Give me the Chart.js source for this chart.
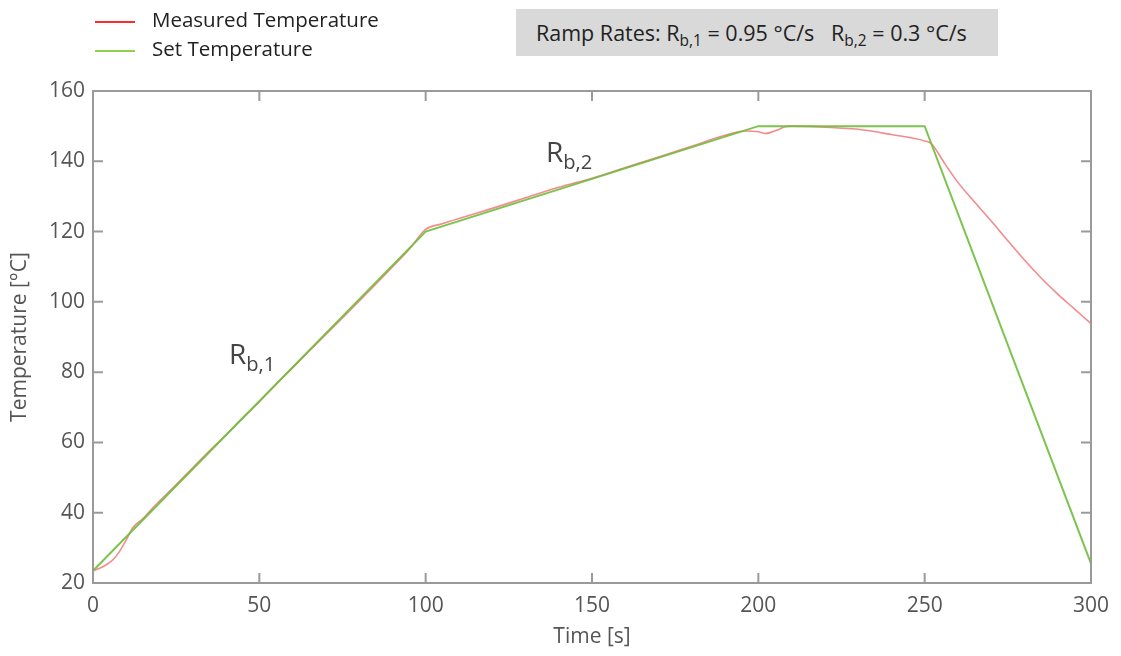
<!DOCTYPE html>
<html>
<head>
<meta charset="utf-8">
<script src="https://cdn.jsdelivr.net/npm/chart.js@4"></script>
<style>
    body { margin: 0; background: #fff; font-family: 'Open Sans', sans-serif; }
    #wrap { position: relative; width: 1121px; height: 656px; }
    .legend { position: absolute; left: 95px; font-size: 20.5px; color: #222; }
    .legend span.line { display: inline-block; width: 40px; height: 2px; vertical-align: middle; margin-right: 17px; }
    .rates { position: absolute; left: 516px; top: 9px; width: 482px; height: 47px; background: #d9d9d9;
             font-size: 21.5px; color: #222; line-height: 47px; text-indent: 20px; white-space: nowrap; }
    .rlabel { position: absolute; font-size: 28px; color: #444; }
    sub { font-size: 0.72em; vertical-align: -0.35em; line-height: 0; }
</style>
</head>
<body>
<div id="wrap">
    <canvas id="tempChart"></canvas>
    <div class="legend" style="top:5px"><span class="line" style="background:#ff2a2a"></span>Measured Temperature</div>
    <div class="legend" style="top:34px"><span class="line" style="background:#8fd14f"></span>Set Temperature</div>
    <div class="rates">Ramp Rates: R<sub>b,1</sub> = 0.95 °C/s &nbsp; R<sub>b,2</sub> = 0.3 °C/s</div>
    <div class="rlabel" style="left:229px; top:334px">R<sub>b,1</sub></div>
    <div class="rlabel" style="left:546px; top:132px">R<sub>b,2</sub></div>
</div>
<script>
const setTimes = [0, 100, 200, 250, 300]
const setTemps = [23.5, 120, 150, 150, 25.5]

const measuredTimes = [0, 2, 4, 6, 8, 10, 12, 15, 18, 20, 25, 30, 35, 40, 45, 50, 55, 60, 65, 70, 75, 80, 85, 90, 95, 100,
    105, 110, 120, 130, 140, 150, 160, 170, 180, 190, 196, 200, 202, 204, 206, 208, 210, 220, 230, 240, 250, 252,
    256, 260, 265, 270, 275, 280, 285, 290, 295, 300]
const measuredTemps = [23.5, 24.2, 25.2, 26.6, 29, 32.3, 35.8, 38.3, 41.4, 43.3, 48, 52.8, 57.6, 62.2, 67, 71.6, 76.5, 81.2, 86, 90.7, 95.4, 100.2, 105, 109.9, 114.9, 120.6,
    122.2, 123.7, 126.6, 129.6, 132.6, 135.2, 138.2, 141.2, 144.3, 147.4, 148.6, 148.4, 147.9, 148.3, 149, 149.8, 150, 149.7, 149.1, 147.6, 145.8, 145,
    139.4, 134, 128.4, 123, 117.4, 111.9, 106.8, 102.2, 98, 93.8]

const xTicks = [0, 50, 100, 150, 200, 250, 300]
const yTicks = [20, 40, 60, 80, 100, 120, 140, 160]

function toPoints(times, temps) {
    return times.map((t, i) => ({ x: t, y: temps[i] }))
}

// axis box with inward tick marks on all four sides
const boxPlugin = {
    id: 'box',
    afterDraw(chart) {
        const { ctx, chartArea: a, scales: { x, y } } = chart
        ctx.save()
        ctx.strokeStyle = '#9a9a9a'
        ctx.lineWidth = 2
        ctx.strokeRect(a.left, a.top, a.right - a.left, a.bottom - a.top)
        ctx.beginPath()
        xTicks.slice(1, -1).forEach(v => {
            const px = x.getPixelForValue(v)
            ctx.moveTo(px, a.bottom); ctx.lineTo(px, a.bottom - 10)
            ctx.moveTo(px, a.top); ctx.lineTo(px, a.top + 10)
        })
        yTicks.slice(1, -1).forEach(v => {
            const py = y.getPixelForValue(v)
            ctx.moveTo(a.left, py); ctx.lineTo(a.left + 10, py)
            ctx.moveTo(a.right, py); ctx.lineTo(a.right - 10, py)
        })
        ctx.stroke()
        ctx.restore()
    },
}

const tickFont = { family: 'Open Sans', size: 21 }
const titleFont = { family: 'Open Sans', size: 21 }

new Chart(document.getElementById('tempChart'), {
    type: 'line',
    data: {
        datasets: [
            {
                label: 'Set Temperature',
                data: toPoints(setTimes, setTemps),
                borderColor: 'rgba(110, 190, 60, 0.9)',
                borderWidth: 2,
                pointRadius: 0,
                tension: 0,
            },
            {
                label: 'Measured Temperature',
                data: toPoints(measuredTimes, measuredTemps),
                borderColor: 'rgba(240, 110, 110, 0.8)',
                borderWidth: 1.6,
                pointRadius: 0,
                cubicInterpolationMode: 'monotone',
            },
        ],
    },
    options: {
        responsive: true,
        maintainAspectRatio: false,
        animation: false,
        layout: { padding: { left: 0, top: 91, right: 30, bottom: 0 } },
        plugins: { legend: { display: false }, tooltip: { enabled: false } },
        scales: {
            x: {
                type: 'linear',
                min: 0,
                max: 300,
                afterBuildTicks: scale => { scale.ticks = xTicks.map(v => ({ value: v })) },
                afterFit: scale => { scale.height = 73 },
                grid: { display: false, drawTicks: false },
                border: { display: false },
                ticks: { color: '#555', font: tickFont, padding: 10, maxRotation: 0 },
                title: { display: true, text: 'Time [s]', color: '#555', font: titleFont, padding: { top: 0, bottom: 6 } },
            },
            y: {
                min: 20,
                max: 160,
                afterBuildTicks: scale => { scale.ticks = yTicks.map(v => ({ value: v })) },
                afterFit: scale => { scale.width = 93 },
                grid: { display: false, drawTicks: false },
                border: { display: false },
                ticks: { color: '#555', font: tickFont, padding: 8 },
                title: { display: true, text: 'Temperature [°C]', color: '#555', font: titleFont, padding: { top: 7, bottom: 0 } },
            },
        },
    },
    plugins: [boxPlugin],
})
</script>
</body>
</html>
